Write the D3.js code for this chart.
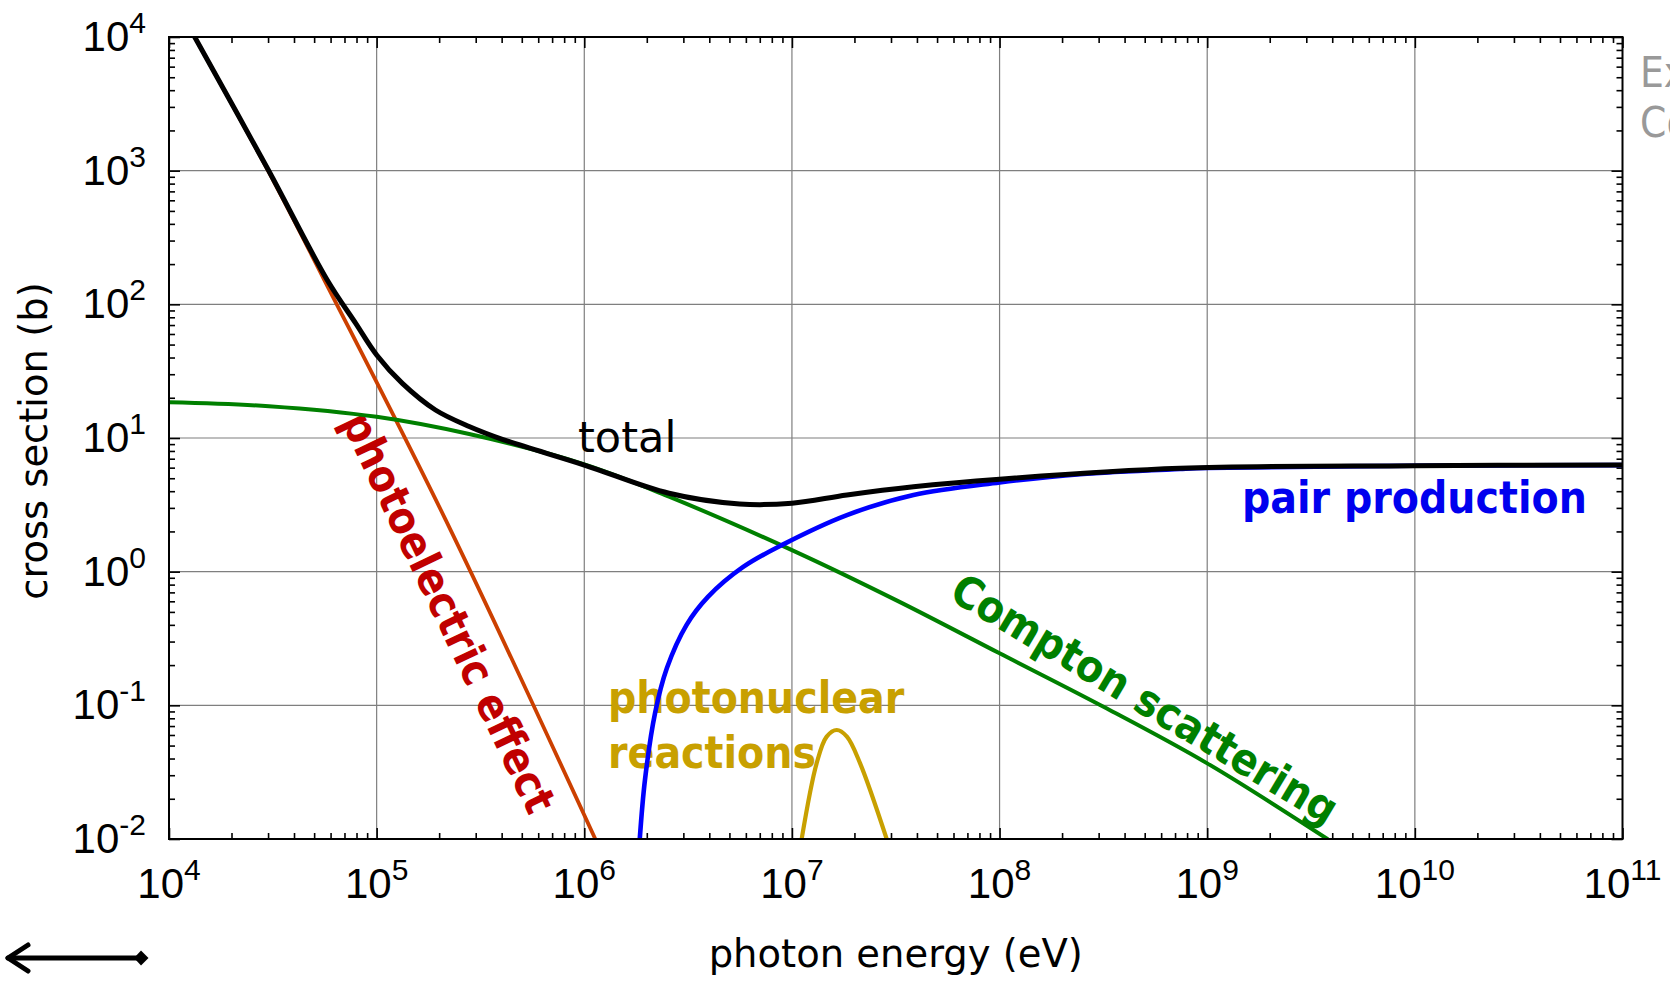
<!DOCTYPE html>
<html>
<head>
<meta charset="utf-8">
<script src="https://cdnjs.cloudflare.com/ajax/libs/d3/7.8.5/d3.min.js"></script>
<style>
  html, body { margin: 0; padding: 0; background: #fff; overflow: hidden; }
  svg { display: block; }
</style>
</head>
<body>
<svg id="chart" width="1670" height="984"></svg>
<script>
// Photon interaction cross sections for copper.
// Energies in eV, cross sections in barn.
const photoelectricE = [1.33e4, 3.0e4, 5.6e4, 2.15e5, 1.13e6];
const photoelectricS = [1e4, 1e3, 152, 2.44, 0.01];

const comptonE = [1e4, 3.03e4, 1e5, 2.79e5, 1e6, 2.56e6, 1e7, 3.19e7, 1e8, 3.27e8, 1e9, 3.79e9];
const comptonS = [18.5, 17.3, 14.4, 10.7, 6.35, 3.64, 1.45, 0.61, 0.245, 0.095, 0.0368, 0.01];

const pairE = [1.85e6, 1.96e6, 2.19e6, 2.5e6, 3.11e6, 3.95e6, 5.8e6, 8.93e6, 1.84e7, 3.85e7, 1e8, 2.44e8, 7.4e8, 1e9, 1e10, 1e11];
const pairS = [0.01, 0.0277, 0.087, 0.19, 0.40, 0.65, 1.08, 1.58, 2.65, 3.75, 4.65, 5.37, 5.86, 5.96, 6.2, 6.27];

const photonuclearE = [1.114e7, 1.315e7, 1.47e7, 1.644e7, 1.84e7, 2.13e7, 2.86e7];
const photonuclearS = [0.01, 0.0368, 0.0583, 0.0654, 0.0583, 0.0368, 0.01];

const totalE = [1.33e4, 3.0e4, 5.78e4, 7.93e4, 1e5, 1.33e5, 1.92e5, 2.79e5, 4.03e5, 1e6, 2.56e6, 5.6e6, 1e7, 1.84e7, 3.85e7, 1e8, 7.4e8, 1e10, 1e11];
const totalS = [1e4, 1.02e3, 152, 72, 41.8, 25.6, 16.2, 12.2, 9.78, 6.28, 3.86, 3.21, 3.25, 3.75, 4.32, 4.92, 5.93, 6.2, 6.28];

// Decade exponents used for tick labels
const xExponents = [4, 5, 6, 7, 8, 9, 10, 11];
const yExponents = [-2, -1, 0, 1, 2, 3, 4];

const W = 1670, H = 984;
const margin = { left: 169, top: 37, right: W - 1622.5, bottom: H - 839 };
const pw = W - margin.left - margin.right;
const ph = H - margin.top - margin.bottom;

const svg = d3.select("#chart");
svg.append("rect").attr("width", W).attr("height", H).attr("fill", "#fff");

const x = d3.scaleLog().domain([1e4, 1e11]).range([0, pw]);
const y = d3.scaleLog().domain([1e-2, 1e4]).range([ph, 0]);

const g = svg.append("g").attr("transform", `translate(${margin.left},${margin.top})`);

svg.append("defs").append("clipPath").attr("id", "plotClip")
  .append("rect").attr("width", pw).attr("height", ph);

// minor tick positions (2..9 of every decade)
function minors(lo, hi) {
  const out = [];
  for (let e = lo; e < hi; e++) for (let m = 2; m <= 9; m++) out.push(m * Math.pow(10, e));
  return out;
}
const xMajor = xExponents.map(e => Math.pow(10, e));
const yMajor = yExponents.map(e => Math.pow(10, e));
const xMinor = minors(4, 11);
const yMinor = minors(-2, 4);

// grid
const grid = g.append("g").attr("stroke", "#7f7f7f").attr("stroke-width", 1.2);
grid.selectAll("line.gx").data(xMajor.slice(1, -1)).join("line")
  .attr("x1", d => x(d)).attr("x2", d => x(d)).attr("y1", 0).attr("y2", ph);
grid.selectAll("line.gy").data(yMajor.slice(1, -1)).join("line")
  .attr("y1", d => y(d)).attr("y2", d => y(d)).attr("x1", 0).attr("x2", pw);

// ticks on all four sides, pointing inwards
function tickAxis(axisFn, scale, values, size, transform) {
  const a = axisFn(scale).tickValues(values).tickSizeInner(-size).tickSizeOuter(0).tickFormat("");
  const sel = g.append("g").attr("transform", transform).call(a);
  sel.select(".domain").remove();
  sel.selectAll("line").attr("stroke", "#000").attr("stroke-width", 1.6);
}
tickAxis(d3.axisBottom, x, xMinor, 6, `translate(0,${ph})`);
tickAxis(d3.axisBottom, x, xMajor, 11, `translate(0,${ph})`);
tickAxis(d3.axisTop, x, xMinor, 6, `translate(0,0)`);
tickAxis(d3.axisTop, x, xMajor, 11, `translate(0,0)`);
tickAxis(d3.axisLeft, y, yMinor, 6, `translate(0,0)`);
tickAxis(d3.axisLeft, y, yMajor, 11, `translate(0,0)`);
tickAxis(d3.axisRight, y, yMinor, 6, `translate(${pw},0)`);
tickAxis(d3.axisRight, y, yMajor, 11, `translate(${pw},0)`);

// tick labels: powers of ten
const tickFont = "'Liberation Sans Narrow', 'Liberation Sans', Arial, sans-serif";
function power(sel, exp) {
  sel.append("tspan").text("10");
  sel.append("tspan").attr("font-size", 30).attr("dy", -18).text(String(exp));
}
g.append("g").selectAll("text").data(xExponents).join("text")
  .attr("x", d => x(Math.pow(10, d))).attr("y", ph + 59)
  .attr("text-anchor", "middle").attr("font-family", tickFont).attr("font-size", 42)
  .each(function (d) { power(d3.select(this), d); });
g.append("g").selectAll("text").data(yExponents).join("text")
  .attr("x", -23).attr("y", d => y(Math.pow(10, d)) + 14)
  .attr("text-anchor", "end").attr("font-family", tickFont).attr("font-size", 42)
  .each(function (d) { power(d3.select(this), d); });

// axis titles
const titleFont = "'DejaVu Sans', Verdana, sans-serif";
svg.append("text").attr("x", margin.left + pw / 2).attr("y", 967)
  .attr("text-anchor", "middle").attr("font-family", titleFont).attr("font-size", 38.5)
  .text("photon energy (eV)");
svg.append("text").attr("transform", `translate(47,${margin.top + ph / 2 + 3}) rotate(-90)`)
  .attr("text-anchor", "middle").attr("font-family", titleFont).attr("font-size", 38.5)
  .text("cross section (b)");

// curve labels
const labelFont = "'DejaVu Sans Condensed', 'DejaVu Sans', sans-serif";
const labels = g.append("g").attr("font-family", labelFont).attr("font-weight", "bold")
  .attr("font-size", 44).style("font-stretch", "condensed");
labels.append("text").attr("x", 409).attr("y", 415).attr("font-family", titleFont)
  .attr("font-weight", "normal").style("font-stretch", "normal").attr("font-size", 43)
  .attr("fill", "#000").text("total");
labels.append("text").attr("x", 1073).attr("y", 476).attr("fill", "#0000ee").text("pair production");
labels.append("text").attr("x", 439).attr("y", 676).attr("fill", "#c8a000").text("photonuclear");
labels.append("text").attr("x", 439).attr("y", 731).attr("fill", "#c8a000").text("reactions");
labels.append("text").attr("transform", "translate(968,675) rotate(31)")
  .attr("text-anchor", "middle").attr("fill", "#008000").text("Compton scattering");
labels.append("text").attr("transform", "translate(266,582) rotate(64.5)")
  .attr("text-anchor", "middle").attr("fill", "#c00000").text("photoelectric effect");

// curves
const curves = g.append("g").attr("clip-path", "url(#plotClip)").attr("fill", "none")
  .attr("stroke-linejoin", "round").attr("stroke-linecap", "round");
const smooth = d3.curveCatmullRom.alpha(0.5);
function drawCurve(es, ss, color, width) {
  const pts = es.map((e, i) => [e, ss[i]]);
  const line = d3.line().x(d => x(d[0])).y(d => y(d[1])).curve(smooth);
  curves.append("path").attr("d", line(pts)).attr("stroke", color).attr("stroke-width", width);
}
drawCurve(photoelectricE, photoelectricS, "#cc4000", 3.8);
drawCurve(comptonE, comptonS, "#008000", 4);
drawCurve(photonuclearE, photonuclearS, "#c8a000", 4.2);
drawCurve(pairE, pairS, "#0000ff", 4.6);
drawCurve(totalE, totalS, "#000", 5);

// frame
g.append("rect").attr("width", pw).attr("height", ph).attr("fill", "none")
  .attr("stroke", "#000").attr("stroke-width", 2);

// side note, running off the right edge
const note = svg.append("g").attr("font-family", labelFont).style("font-stretch", "condensed")
  .attr("font-size", 42).attr("fill", "#999");
note.append("text").attr("x", 1640).attr("y", 87).text("Example");
note.append("text").attr("x", 1640).attr("y", 137).text("Copper");

// double-ended arrow, bottom left
const arrow = svg.append("g").attr("stroke", "#000").attr("stroke-width", 5)
  .attr("stroke-linecap", "round").attr("stroke-linejoin", "round").attr("fill", "none");
arrow.append("line").attr("x1", 8).attr("x2", 140).attr("y1", 958).attr("y2", 958);
arrow.append("polyline").attr("points", "28,945 8,958 28,971");
svg.append("polygon").attr("points", "134,958 141,950.5 148.5,958 141,965.5").attr("fill", "#000");
</script>
</body>
</html>
